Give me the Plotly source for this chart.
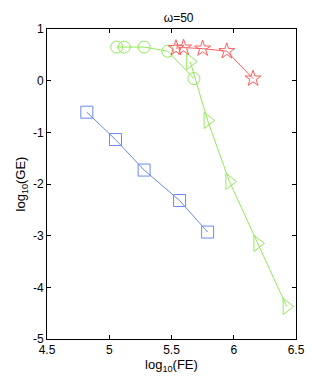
import plotly.graph_objects as go

# log10(FE) / log10(GE)
sq_x = [4.82, 5.05, 5.28, 5.565, 5.79]
sq_y = [-0.61, -1.14, -1.73, -2.32, -2.93]

circ_x = [5.06, 5.12, 5.28, 5.47, 5.68]
circ_y = [0.65, 0.65, 0.65, 0.57, 0.04]

tri_x = [5.65, 5.79, 5.965, 6.19, 6.425]
tri_y = [0.37, -0.77, -1.95, -3.15, -4.37]

star_x = [5.536, 5.597, 5.75, 5.944, 6.155]
star_y = [0.63, 0.64, 0.62, 0.57, 0.04]

x_ticks = [4.5, 5, 5.5, 6, 6.5]
y_ticks = [1, 0, -1, -2, -3, -4, -5]

blue = "#6a88f2"
green = "#93e85a"
red = "#ff5c5c"

fig = go.Figure()
fig.add_trace(go.Scatter(x=sq_x, y=sq_y, mode="lines+markers",
                         line=dict(color=blue, width=1),
                         marker=dict(symbol="square-open", size=12, color=blue, line=dict(width=1))))
fig.add_trace(go.Scatter(x=circ_x, y=circ_y, mode="lines+markers",
                         line=dict(color=green, width=1),
                         marker=dict(symbol="circle-open", size=12, color=green, line=dict(width=1))))
fig.add_trace(go.Scatter(x=tri_x, y=tri_y, mode="lines+markers",
                         line=dict(color=green, width=1),
                         marker=dict(symbol="triangle-right-open", size=14, color=green, line=dict(width=1))))
fig.add_trace(go.Scatter(x=star_x, y=star_y, mode="lines+markers",
                         line=dict(color=red, width=1),
                         marker=dict(symbol="star-open", size=12, color=red, line=dict(width=1))))

axis_common = dict(showgrid=False, zeroline=False, showline=True, linecolor="black", linewidth=1,
                   mirror="ticks", ticks="inside", ticklen=4, tickcolor="black",
                   tickfont=dict(family="Liberation Sans Narrow, Liberation Sans, Arial", size=12, color="black"))

# page body has an 8px margin, so the figure is a bit smaller than the window
fig.update_layout(
    width=319, height=374,
    margin=dict(l=35, r=31, t=21, b=43),
    paper_bgcolor="white", plot_bgcolor="white",
    showlegend=False,
    title=dict(text="ω=50", x=0.535, xanchor="center", y=0.985, yanchor="top",
               font=dict(family="Liberation Sans Narrow, Liberation Sans, Arial", size=12, color="black")),
    xaxis=dict(range=[4.5, 6.5], tickvals=x_ticks, ticktext=[str(v) for v in x_ticks],
               title=dict(text="log<sub>10</sub>(FE)", standoff=2,
                          font=dict(family="Liberation Sans Narrow, Liberation Sans, Arial", size=13, color="black")),
               **axis_common),
    yaxis=dict(range=[-5, 1], tickvals=y_ticks, ticktext=[str(v) for v in y_ticks],
               title=dict(text="log<sub>10</sub>(GE)", standoff=4,
                          font=dict(family="Liberation Sans, Arial", size=13, color="black")),
               **axis_common),
)

fig.write_html("out.html")
